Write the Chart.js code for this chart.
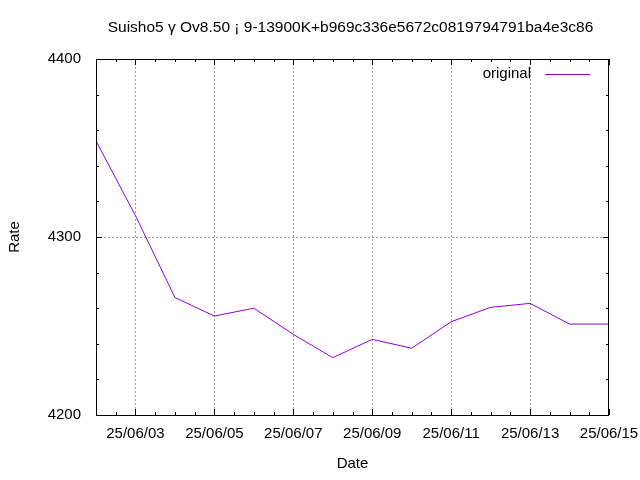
<!DOCTYPE html>
<html>
<head>
<meta charset="utf-8">
<script src="https://cdn.jsdelivr.net/npm/chart.js@4.4.1/dist/chart.umd.min.js"></script>
<style>
  html, body { margin: 0; padding: 0; background: #fff; }
</style>
</head>
<body>
<canvas id="grafico" width="640" height="480"></canvas>
<script>
const titulo = "Suisho5 γ Ov8.50 ¡ 9-13900K+b969c336e5672c0819794791ba4e3c86";
const serie = "original";
const fechas = ["25/06/02", "25/06/03", "25/06/04", "25/06/05", "25/06/06", "25/06/07", "25/06/08",
                "25/06/09", "25/06/10", "25/06/11", "25/06/12", "25/06/13", "25/06/14", "25/06/15"];
const rates = [4354, 4312, 4266, 4255.6, 4260, 4245.3, 4232.2,
               4242.5, 4237.5, 4252.4, 4260.5, 4262.7, 4251.1, 4251.1];
const yMin = 4200, yMax = 4400, yPaso = 100, yMenor = 20;

const fuente = { family: "'Liberation Sans', Arial, sans-serif", size: 15 };
const gris = "#a0a0a0";
const nada = "rgba(0,0,0,0)";

// etiqueta cada 2 dias (06/03, 06/05, ...)
function esMayor(v) {
    return Number.isInteger(v) && v % 2 === 1;
}

// marco, ticks hacia dentro, titulo y leyenda al estilo gnuplot
const marco = {
    id: "marco",
    afterDatasetsDraw(chart) {
        const { ctx, chartArea: a, scales: { x, y } } = chart;
        ctx.save();
        ctx.strokeStyle = "#000";
        ctx.lineWidth = 1;
        ctx.beginPath();
        x.ticks.forEach(t => {
            const px = Math.round(x.getPixelForValue(t.value)) + 0.5;
            const largo = esMayor(t.value) ? 6 : 3;
            ctx.moveTo(px, a.bottom); ctx.lineTo(px, a.bottom - largo);
            ctx.moveTo(px, a.top); ctx.lineTo(px, a.top + largo);
        });
        y.ticks.forEach(t => {
            const py = Math.round(y.getPixelForValue(t.value)) + 0.5;
            const largo = t.value % yPaso === 0 ? 6 : 3;
            ctx.moveTo(a.left, py); ctx.lineTo(a.left + largo, py);
            ctx.moveTo(a.right, py); ctx.lineTo(a.right - largo, py);
        });
        ctx.stroke();
        ctx.strokeRect(Math.round(a.left) + 0.5, Math.round(a.top) + 0.5,
                       Math.round(a.width) - 1, Math.round(a.height));

        // leyenda
        const ds = chart.data.datasets[0];
        ctx.font = fuente.size + "px " + fuente.family;
        ctx.fillStyle = "#000";
        ctx.textAlign = "right";
        ctx.textBaseline = "middle";
        ctx.fillText(ds.label, a.right - 78, a.top + 15);
        ctx.strokeStyle = ds.borderColor;
        ctx.beginPath();
        ctx.moveTo(a.right - 64, a.top + 15.5);
        ctx.lineTo(a.right - 19, a.top + 15.5);
        ctx.stroke();

        // titulo
        ctx.font = "15.5px " + fuente.family;
        ctx.textAlign = "center";
        ctx.fillText(titulo, (a.left + a.right) / 2 - 2, 28);
        ctx.restore();
    }
};

new Chart(document.getElementById("grafico"), {
    type: "line",
    data: {
        datasets: [{
            label: serie,
            data: rates.map((r, i) => ({ x: i, y: r })),
            borderColor: "#9400d3",
            borderWidth: 1,
            pointRadius: 0,
            tension: 0,
            fill: false
        }]
    },
    options: {
        responsive: false,
        animation: false,
        events: [],
        layout: { padding: { top: 59, right: 31, left: 0, bottom: 0 } },
        plugins: {
            legend: { display: false },
            title: { display: false },
            tooltip: { enabled: false }
        },
        scales: {
            x: {
                type: "linear",
                min: 0,
                max: fechas.length - 1,
                afterFit(s) { s.height = 65; s.paddingLeft = 0; s.paddingRight = 0; },
                grid: {
                    drawTicks: false,
                    color: c => esMayor(c.tick.value) && c.tick.value < fechas.length - 1 ? gris : nada
                },
                border: { display: false, dash: [2, 2] },
                ticks: {
                    stepSize: 0.5,
                    autoSkip: false,
                    maxRotation: 0,
                    padding: 10,
                    color: "#000",
                    font: fuente,
                    callback: v => esMayor(v) ? fechas[v] : ""
                },
                title: { display: true, text: "Date", color: "#000", font: fuente, padding: { top: 0, bottom: 7 } }
            },
            y: {
                min: yMin,
                max: yMax,
                afterFit(s) { s.width = 96; s.paddingTop = 0; s.paddingBottom = 0; },
                grid: {
                    drawTicks: false,
                    color: c => c.tick.value % yPaso === 0 && c.tick.value > yMin && c.tick.value < yMax ? gris : nada
                },
                border: { display: false, dash: [2, 2] },
                ticks: {
                    stepSize: yMenor,
                    autoSkip: false,
                    padding: 15,
                    color: "#000",
                    font: fuente,
                    callback: v => v % yPaso === 0 ? String(v) : ""
                },
                title: { display: true, text: "Rate", color: "#000", font: fuente, padding: { top: 6 } }
            }
        }
    },
    plugins: [marco]
});
</script>
</body>
</html>
